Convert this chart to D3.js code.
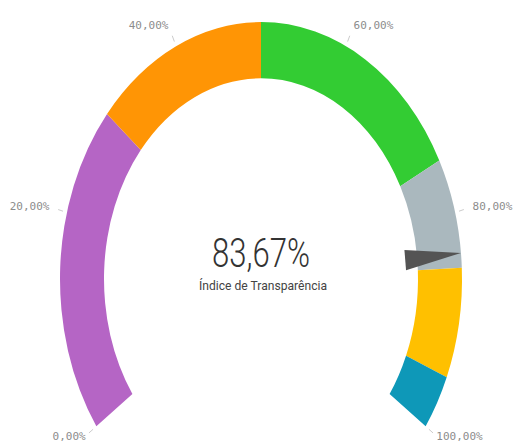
<!DOCTYPE html>
<html>
<head>
<meta charset="utf-8">
<script src="https://cdn.jsdelivr.net/npm/d3@7"></script>
<style>
  body { margin: 0; background: #fff; }
  svg { display: block; }
</style>
</head>
<body>
<div id="container"></div>
<script>
/* DATA */
const bandStops = [0, 0.30, 0.50, 0.75, 0.85, 0.95, 1];
const bandColors = ["#b565c5", "#ff9505", "#33cc33", "#aab8be", "#ffc000", "#0e98b8"];
const tickValues = [0, 0.2, 0.4, 0.6, 0.8, 1];
const gaugeValue = 0.8367;
const gaugeTitle = "Índice de Transparência";

/* CONSTANTS */
const width = 513,
  height = 444,
  cx = 261,
  cy = 279,
  outerR = 201,
  innerR = 157,
  stretch = 1.278,
  sweep = 125 * Math.PI / 180;

const ptBR = d3.formatLocale({decimal: ",", thousands: ".", grouping: [3], currency: ["", ""]});
const pct = ptBR.format(".2%");

const svg = d3.select("#container")
  .append("svg")
  .attr("width", width)
  .attr("height", height);

// value -> angle (radians, clockwise from top)
const angle = d3.scaleLinear()
  .domain([0, 1])
  .range([-sweep, sweep]);

// position on the (stretched) gauge in page coords
const pos = (v, r) => [cx + r * Math.sin(angle(v)), cy - r * stretch * Math.cos(angle(v))];

// gauge is drawn round, then stretched vertically
const g = svg.append("g")
  .attr("transform", `translate(${cx},${cy}) scale(1,${stretch})`);

const arc = d3.arc()
  .innerRadius(innerR)
  .outerRadius(outerR);

const bands = bandColors.map((c, i) => ({from: bandStops[i], to: bandStops[i + 1], color: c}));

g.selectAll(".band")
  .data(bands)
  .join("path")
  .attr("class", "band")
  .attr("d", d => arc({startAngle: angle(d.from), endAngle: angle(d.to)}))
  .attr("fill", d => d.color);

// needle
const a = angle(gaugeValue);
const needlePts = [
  [outerR, 0],
  [innerR - 12, -8],
  [innerR - 12, 8]
].map(([r, w]) => [r * Math.sin(a) + w * Math.cos(a), -r * Math.cos(a) + w * Math.sin(a)]);

g.append("path")
  .attr("d", d3.line()(needlePts) + "Z")
  .attr("fill", "#545454");

// ticks
svg.selectAll(".tick")
  .data(tickValues)
  .join("line")
  .attr("class", "tick")
  .attr("x1", d => pos(d, outerR + 4)[0])
  .attr("y1", d => pos(d, outerR + 4)[1])
  .attr("x2", d => pos(d, outerR + 9)[0])
  .attr("y2", d => pos(d, outerR + 9)[1])
  .attr("stroke", "#cccccc")
  .attr("stroke-width", 1);

// ends sit near the bottom edge, keep them a bit closer
const labelGap = d => (d === 0 || d === 1) ? 13 : 18;

svg.selectAll(".tick-label")
  .data(tickValues)
  .join("text")
  .attr("class", "tick-label")
  .attr("x", d => pos(d, outerR + labelGap(d))[0])
  .attr("y", d => pos(d, outerR + labelGap(d))[1])
  .attr("dy", "0.35em")
  .attr("text-anchor", d => d < 0.5 ? "end" : "start")
  .style("font-family", "'DejaVu Sans Mono', monospace")
  .style("font-size", "11px")
  .style("fill", "#8c8c8c")
  .text(d => pct(d));

// center value
svg.append("text")
  .attr("x", cx)
  .attr("y", 267)
  .attr("text-anchor", "middle")
  .attr("textLength", 98)
  .attr("lengthAdjust", "spacingAndGlyphs")
  .style("font-family", "Roboto, sans-serif")
  .style("font-weight", 300)
  .style("font-size", "40px")
  .style("fill", "#333333")
  .text(pct(gaugeValue));

svg.append("text")
  .attr("x", cx + 2)
  .attr("y", 290)
  .attr("text-anchor", "middle")
  .attr("textLength", 128)
  .attr("lengthAdjust", "spacingAndGlyphs")
  .style("font-family", "Roboto, sans-serif")
  .style("font-size", "13px")
  .style("fill", "#444444")
  .text(gaugeTitle);
</script>
</body>
</html>
